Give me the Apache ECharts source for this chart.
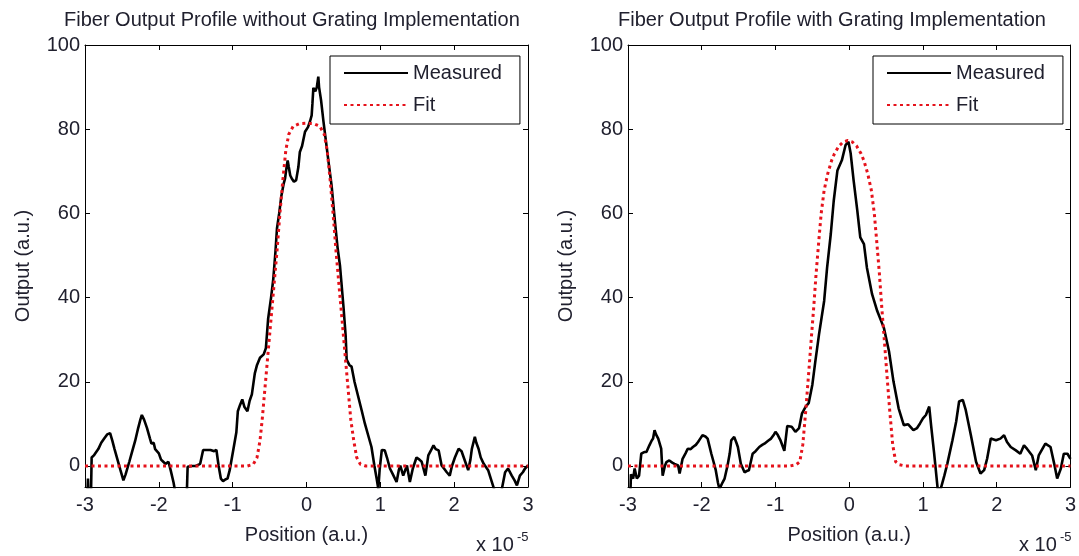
<!DOCTYPE html>
<html><head><meta charset="utf-8">
<script src="https://cdn.jsdelivr.net/npm/echarts@6/dist/echarts.min.js"></script>
<style>html,body{margin:0;padding:0;background:#fff}#c{width:1079px;height:556px}</style>
</head><body><div id="c"></div><script>
const titleLeft = 'Fiber Output Profile without Grating Implementation';
const titleRight = 'Fiber Output Profile with Grating Implementation';
const xName = 'Position (a.u.)';
const yName = 'Output (a.u.)';
const legendNames = ['Measured', 'Fit'];
const xTicks = [-3, -2, -1, 0, 1, 2, 3];
const yTicks = [0, 20, 40, 60, 80, 100];

const measuredLeft = [[-3.0,-8],[-2.97,-8],[-2.96,-3],[-2.95,-8],[-2.92,-8],[-2.91,2],[-2.88,2.5],[-2.86,3],[-2.82,4],[-2.78,5.5],[-2.74,6.5],[-2.70,7.5],[-2.66,7.8],[-2.63,6],[-2.60,4],[-2.56,1.5],[-2.52,-1],[-2.48,-3.4],[-2.45,-2],[-2.40,1],[-2.36,3.5],[-2.32,6],[-2.28,9],[-2.25,11],[-2.23,12.1],[-2.20,11],[-2.16,9],[-2.12,6.5],[-2.10,5.3],[-2.07,5.5],[-2.05,4],[-2.03,4.2],[-2.0,3],[-1.97,1.5],[-1.94,1],[-1.91,0.5],[-1.87,1],[-1.84,-1],[-1.80,-4],[-1.78,-6],[-1.62,-6],[-1.61,-0.2],[-1.55,0],[-1.50,0],[-1.44,0.5],[-1.40,3.8],[-1.30,3.8],[-1.25,3.5],[-1.22,3.8],[-1.19,0],[-1.16,-3],[-1.13,-3.6],[-1.10,-3.2],[-1.07,-3],[-1.04,-1],[-1.02,1],[-0.98,5],[-0.95,8],[-0.93,13],[-0.90,14.5],[-0.87,15.8],[-0.84,14],[-0.80,13],[-0.77,15.5],[-0.74,17],[-0.72,19.5],[-0.70,22],[-0.67,24],[-0.63,25.7],[-0.58,26.5],[-0.55,28],[-0.52,34.9],[-0.48,40],[-0.45,44.4],[-0.42,51],[-0.40,56.4],[-0.37,60],[-0.34,64.2],[-0.31,67],[-0.29,68.3],[-0.27,71],[-0.255,72.6],[-0.24,71],[-0.22,69],[-0.20,68.3],[-0.17,67.5],[-0.14,67.9],[-0.11,71],[-0.09,74.6],[-0.06,76],[-0.02,79.4],[0.02,80.5],[0.05,82],[0.07,83.3],[0.08,86],[0.093,89.8],[0.12,89],[0.14,90],[0.16,92.5],[0.17,90],[0.197,86.9],[0.23,81.8],[0.27,76.2],[0.30,72],[0.34,66.6],[0.386,57.9],[0.42,52],[0.454,47.5],[0.50,38],[0.53,31],[0.544,25.3],[0.58,24],[0.61,23.6],[0.65,20],[0.70,16.5],[0.75,13],[0.79,10.1],[0.84,7],[0.88,4.5],[0.92,0],[0.95,-3],[0.973,-5.5],[0.99,-1],[1.02,3.8],[1.06,3.7],[1.09,2],[1.13,-0.6],[1.17,-2],[1.22,-3.8],[1.25,-1],[1.27,0.1],[1.31,-2.3],[1.36,0.1],[1.40,-3.8],[1.44,-0.6],[1.49,2.0],[1.53,1.5],[1.56,1],[1.61,-2.3],[1.65,2.5],[1.68,3.5],[1.72,4.9],[1.75,4],[1.79,3.7],[1.83,0.1],[1.87,-0.8],[1.90,-1.5],[1.94,-2.3],[1.97,0],[2.01,2.0],[2.06,4.1],[2.10,3.5],[2.15,1.0],[2.19,-1.0],[2.22,1.5],[2.24,4.1],[2.28,6.9],[2.30,5.5],[2.33,4.1],[2.36,2],[2.40,0.5],[2.46,-1.0],[2.51,-3.8],[2.55,-6],[2.64,-6],[2.69,-1.5],[2.73,-0.6],[2.78,-2.3],[2.82,-3.5],[2.85,-4.6],[2.89,-2.3],[2.93,-1.5],[2.96,-0.6],[3.0,0.1]];

const fitLeft = [[-3,0],[-0.8,0],[-0.72,0.4],[-0.67,2],[-0.63,6],[-0.6,11],[-0.56,19],[-0.52,27],[-0.48,35],[-0.44,43],[-0.4,51],[-0.36,60],[-0.32,68],[-0.28,75],[-0.24,78.8],[-0.18,80.7],[-0.1,81.3],[0,81.4],[0.1,81.3],[0.18,80.7],[0.24,78.8],[0.28,75],[0.32,68],[0.36,60],[0.4,51],[0.44,43],[0.48,35],[0.52,27],[0.56,19],[0.6,11],[0.64,6],[0.68,2],[0.73,0.4],[0.8,0],[3,0]];

const measuredRight = [[-3.0,-8],[-2.97,-8],[-2.96,-2],[-2.93,-3],[-2.91,-0.6],[-2.88,-3],[-2.85,-2.3],[-2.82,2.9],[-2.78,3.3],[-2.75,3.3],[-2.71,4.9],[-2.68,6],[-2.66,6.5],[-2.64,8.5],[-2.62,7.5],[-2.59,6.5],[-2.55,4.1],[-2.53,-2.3],[-2.50,0],[-2.48,0.9],[-2.44,1.3],[-2.40,0.8],[-2.37,0.5],[-2.32,0.1],[-2.30,-1.8],[-2.26,1.7],[-2.22,3],[-2.19,4.1],[-2.15,4],[-2.12,4.5],[-2.08,5],[-2.05,5.7],[-2.02,6.5],[-1.99,7.3],[-1.95,7],[-1.92,6.5],[-1.87,2.9],[-1.84,1],[-1.81,-1.0],[-1.78,-4],[-1.76,-5.5],[-1.72,-4],[-1.69,-3],[-1.65,0.1],[-1.62,3],[-1.60,6.1],[-1.56,6.9],[-1.53,5.5],[-1.51,4.5],[-1.47,0.5],[-1.42,-1.5],[-1.39,-1.2],[-1.36,-1.0],[-1.31,2.9],[-1.27,3.5],[-1.22,4.5],[-1.18,5],[-1.15,5.3],[-1.10,6],[-1.06,6.5],[-1.02,7.5],[-1.0,8.1],[-0.97,7.4],[-0.93,6],[-0.88,3.6],[-0.84,9.5],[-0.78,9.3],[-0.73,8.1],[-0.68,9],[-0.64,12.5],[-0.59,14.1],[-0.55,14.9],[-0.50,19.3],[-0.46,24.8],[-0.41,31.2],[-0.34,39.2],[-0.30,47.1],[-0.25,55.1],[-0.21,63.0],[-0.16,70.2],[-0.10,72.6],[-0.05,76.2],[-0.01,77],[0.02,74.2],[0.06,67.8],[0.11,60.6],[0.15,54.3],[0.20,52.7],[0.24,47.1],[0.31,40.8],[0.38,36.8],[0.47,32.8],[0.54,27.2],[0.60,20.1],[0.67,13.7],[0.74,9.7],[0.80,9.9],[0.87,8.5],[0.92,9],[0.96,10.1],[1.0,11.3],[1.04,12.1],[1.085,14.1],[1.11,9.7],[1.15,3.3],[1.20,-5.5],[1.24,-5.5],[1.29,-2.3],[1.33,0.5],[1.40,6.1],[1.45,10.5],[1.49,15.3],[1.54,15.7],[1.58,13.3],[1.65,7.3],[1.72,1.0],[1.78,-1.8],[1.83,-1.0],[1.87,1.7],[1.92,6.5],[1.99,6.1],[2.05,6.5],[2.10,7.3],[2.14,5.7],[2.19,4.5],[2.26,3.7],[2.32,2.9],[2.37,4.9],[2.41,4.1],[2.48,2.5],[2.53,-1.0],[2.57,2.5],[2.66,5.3],[2.73,4.5],[2.78,0.5],[2.82,-3.0],[2.87,-0.6],[2.91,2.9],[2.96,2.9],[3.0,1.7]];

const fitRight = [[-3,0],[-0.8,0],[-0.72,0.3],[-0.67,1],[-0.63,5],[-0.59,13],[-0.55,22],[-0.52,29],[-0.48,38],[-0.45,45.5],[-0.41,54],[-0.38,60],[-0.34,65.5],[-0.29,69.5],[-0.24,72.5],[-0.2,74.2],[-0.14,76],[-0.08,77],[-0.02,77.3],[0.04,77],[0.1,76],[0.16,74.2],[0.2,72.5],[0.25,69.5],[0.30,65.5],[0.34,60],[0.37,54],[0.41,45.5],[0.44,38],[0.48,29],[0.51,22],[0.55,13],[0.59,5],[0.63,1],[0.68,0.3],[0.76,0],[3,0]];

const FONT = "'Liberation Sans', Arial, sans-serif";
const TXT = '#20202e';
const chart = echarts.init(document.getElementById('c'));

const grids = [
  {left: 85, top: 45, width: 443, height: 442},
  {left: 628, top: 45, width: 444, height: 442}
];

function xAxesFor(gi) {
  const base = {
    type: 'value', gridIndex: gi, min: -3, max: 3, interval: 1,
    axisLine: {show: true, onZero: false, lineStyle: {color: '#000', width: 1}},
    axisTick: {show: true, inside: true, length: 5, lineStyle: {color: '#000'}},
    splitLine: {show: false}
  };
  return [
    Object.assign({}, base, {
      position: 'bottom',
      axisLabel: {color: TXT, fontSize: 20, fontFamily: FONT, margin: 8},
      name: xName, nameLocation: 'middle', nameGap: 38,
      nameTextStyle: {color: TXT, fontSize: 20, fontFamily: FONT}
    }),
    Object.assign({}, base, {position: 'top', axisLabel: {show: false}})
  ];
}
function yAxesFor(gi) {
  const base = {
    type: 'value', gridIndex: gi, min: -5, max: 100,
    axisLine: {show: true, onZero: false, lineStyle: {color: '#000', width: 1}},
    axisTick: {show: true, inside: true, length: 5, customValues: yTicks, lineStyle: {color: '#000'}},
    splitLine: {show: false}
  };
  return [
    Object.assign({}, base, {
      position: 'left',
      axisLabel: {color: TXT, fontSize: 20, fontFamily: FONT, margin: 5, customValues: yTicks},
      name: yName, nameLocation: 'middle', nameGap: 52,
      nameTextStyle: {color: TXT, fontSize: 20, fontFamily: FONT}
    }),
    Object.assign({}, base, {position: 'right', axisLabel: {show: false}})
  ];
}

const xAxis = [...xAxesFor(0), ...xAxesFor(1)];
const yAxis = [...yAxesFor(0), ...yAxesFor(1)];

function measuredSeries(data, xi, yi) {
  return {name: legendNames[0], type: 'line', data: data, xAxisIndex: xi, yAxisIndex: yi,
    showSymbol: false, symbol: 'none', animation: false, clip: true,
    lineStyle: {color: '#000', width: 2.6}, itemStyle: {color: '#000'}, z: 3};
}
function fitSeries(data, xi, yi) {
  return {name: legendNames[1], type: 'line', data: data, xAxisIndex: xi, yAxisIndex: yi,
    showSymbol: false, symbol: 'none', animation: false, clip: true,
    lineStyle: {color: '#e5121b', width: 3, type: [3, 3.5]}, itemStyle: {color: '#e5121b'}, z: 4};
}

function legendAt(left) {
  return {
    data: legendNames, orient: 'vertical', left: left, top: 56,
    itemWidth: 64, itemHeight: 14, itemGap: 12,
    padding: [7, 18, 9, 13],
    borderColor: '#000', borderWidth: 1, backgroundColor: '#fff',
    itemStyle: {color: 'rgba(0,0,0,0)', borderColor: 'rgba(0,0,0,0)', borderWidth: 0, opacity: 0},
    textStyle: {color: TXT, fontSize: 20, fontFamily: FONT},
    selectedMode: false
  };
}

chart.setOption({
  backgroundColor: '#fff',
  animation: false,
  title: [
    {text: titleLeft, left: 59, top: 5, textStyle: {color: TXT, fontSize: 20, fontWeight: 'normal', fontFamily: FONT}},
    {text: titleRight, left: 613, top: 5, textStyle: {color: TXT, fontSize: 20, fontWeight: 'normal', fontFamily: FONT}}
  ],
  grid: grids,
  xAxis: xAxis,
  yAxis: yAxis,
  legend: [legendAt(330), legendAt(873)],
  series: [
    measuredSeries(measuredLeft, 0, 0),
    fitSeries(fitLeft, 0, 0),
    measuredSeries(measuredRight, 2, 2),
    fitSeries(fitRight, 2, 2)
  ],
  graphic: [
    {type: 'text', left: 476, top: 535, style: {text: 'x 10', fill: TXT, font: '20px ' + FONT}},
    {type: 'text', left: 517, top: 531, style: {text: '-5', fill: TXT, font: '13px ' + FONT}},
    {type: 'text', left: 1019, top: 535, style: {text: 'x 10', fill: TXT, font: '20px ' + FONT}},
    {type: 'text', left: 1060, top: 531, style: {text: '-5', fill: TXT, font: '13px ' + FONT}}
  ]
});
</script></body></html>
